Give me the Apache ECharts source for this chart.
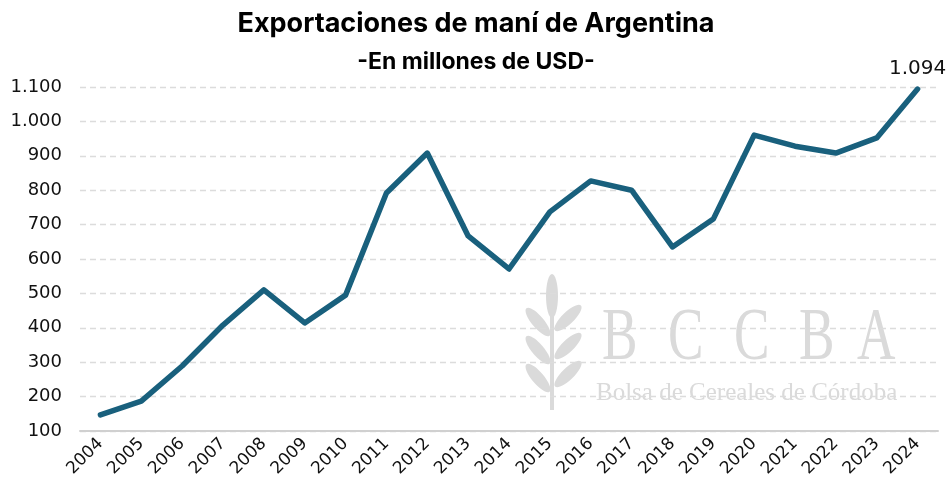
<!DOCTYPE html>
<html>
<head>
<meta charset="utf-8">
<script src="https://cdn.jsdelivr.net/npm/echarts@6/dist/echarts.min.js"></script>
<style>
  html, body { margin: 0; padding: 0; background: #fff; }
  #chartmain { width: 952px; height: 490px; }
</style>
</head>
<body>
<div id="chartmain"></div>
<script>
// años (eje X)
var years = ['2004', '2005', '2006', '2007', '2008', '2009', '2010', '2011', '2012', '2013', '2014',
             '2015', '2016', '2017', '2018', '2019', '2020', '2021', '2022', '2023', '2024'];
// exportaciones en millones de USD
var exportaciones = [147, 187, 289, 408, 510, 414, 495, 792, 908, 667, 571,
                     737, 827, 800, 635, 716, 960, 928, 908, 952, 1094];

function fmtMiles(v) {
    return String(v).replace(/\B(?=(\d{3})+(?!\d))/g, '.');
}

var chart = echarts.init(document.getElementById('chartmain'));

// solo el ultimo punto lleva etiqueta
var serieData = exportaciones.map(function (v, i) {
    if (i === exportaciones.length - 1) {
        return { value: v, label: { show: true } };
    }
    return v;
});

var gris = '#dcdcdc';
var marca = '#dadada';

// letras de la marca de agua (decoracion)
var letras = [['B', 602], ['C', 668], ['C', 734], ['B', 799], ['A', 857]];
var graficos = letras.map(function (l) {
    return { type: 'text', x: l[1], y: 303, scaleX: 0.72, z: 0, silent: true,
             style: { text: l[0], fontFamily: 'Liberation Serif', fontSize: 74, fill: marca } };
});
graficos.push({ type: 'text', x: 596, y: 381, scaleX: 1.0, z: 0, silent: true,
    style: { text: 'Bolsa de Cereales de Córdoba', fontFamily: 'Liberation Serif', fontSize: 25, fill: marca } });
// espiga
graficos.push({ type: 'group', x: 528, y: 272, z: 0, silent: true, children: [
    { type: 'rect', shape: { x: 22, y: 40, width: 4, height: 98 }, style: { fill: marca } },
    { type: 'ellipse', shape: { cx: 24, cy: 24, rx: 6, ry: 22 }, style: { fill: marca } },
    { type: 'ellipse', shape: { cx: 10, cy: 50, rx: 6, ry: 18 }, rotation: 0.7, originX: 10, originY: 50, style: { fill: marca } },
    { type: 'ellipse', shape: { cx: 40, cy: 46, rx: 6, ry: 18 }, rotation: -0.8, originX: 40, originY: 46, style: { fill: marca } },
    { type: 'ellipse', shape: { cx: 10, cy: 78, rx: 6, ry: 18 }, rotation: 0.7, originX: 10, originY: 78, style: { fill: marca } },
    { type: 'ellipse', shape: { cx: 40, cy: 74, rx: 6, ry: 18 }, rotation: -0.8, originX: 40, originY: 74, style: { fill: marca } },
    { type: 'ellipse', shape: { cx: 10, cy: 106, rx: 6, ry: 18 }, rotation: 0.7, originX: 10, originY: 106, style: { fill: marca } },
    { type: 'ellipse', shape: { cx: 40, cy: 102, rx: 6, ry: 18 }, rotation: -0.8, originX: 40, originY: 102, style: { fill: marca } }
]});

chart.setOption({
    animation: false,
    title: [{
        text: 'Exportaciones de maní de Argentina',
        left: 'center',
        top: 5,
        textStyle: { fontFamily: 'Inter', fontSize: 27, fontWeight: 'bold', color: '#000' }
    }, {
        text: '-En millones de USD-',
        left: 'center',
        top: 46,
        textStyle: { fontFamily: 'Inter', fontSize: 23, fontWeight: 'bold', color: '#000' }
    }],
    grid: { left: 80, right: 14, top: 87, bottom: 59 },
    xAxis: {
        type: 'category',
        data: years,
        boundaryGap: true,
        axisLine: { lineStyle: { color: '#d0d0d0', width: 2 } },
        axisTick: { show: false },
        axisLabel: { rotate: 45, fontFamily: 'DejaVu Sans', fontSize: 17, color: '#111', margin: 10 }
    },
    yAxis: {
        type: 'value',
        min: 100,
        max: 1100,
        interval: 100,
        axisLine: { show: false },
        axisTick: { show: false },
        axisLabel: {
            fontFamily: 'DejaVu Sans', fontSize: 18, color: '#111', margin: 18,
            formatter: function (v) { return fmtMiles(v); }
        },
        splitLine: { lineStyle: { color: gris, type: [6, 4], width: 1.3 } }
    },
    graphic: graficos,
    series: [{
        name: 'Exportaciones',
        type: 'line',
        data: serieData,
        symbol: 'circle',
        symbolSize: 1,
        showSymbol: true,
        itemStyle: { color: '#19607d' },
        z: 5,
        lineStyle: { color: '#19607d', width: 5.5, cap: 'round', join: 'round' },
        label: {
            show: false,
            position: 'top',
            distance: 10,
            fontFamily: 'DejaVu Sans',
            fontSize: 20,
            color: '#111',
            formatter: function (p) { return fmtMiles(p.value); }
        }
    }]
});
</script>
</body>
</html>
